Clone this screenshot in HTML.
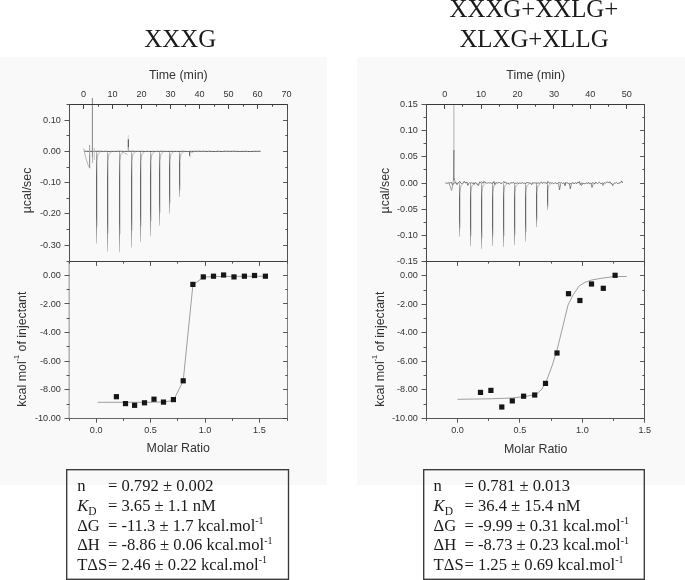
<!DOCTYPE html>
<html><head><meta charset="utf-8"><title>ITC</title><style>
html,body{margin:0;padding:0;background:#fff;}
body{width:685px;height:580px;position:relative;overflow:hidden;}
svg{position:absolute;left:0;top:0;display:block;}
</style></head><body>
<svg width="685" height="580" viewBox="0 0 685 580" font-family="Liberation Sans, Arial, sans-serif">
<defs><linearGradient id="gl" gradientUnits="userSpaceOnUse" x1="0" y1="150" x2="0" y2="255"><stop offset="0" stop-color="#555"/><stop offset="0.55" stop-color="#666"/><stop offset="1" stop-color="#c4c4c4"/></linearGradient><linearGradient id="gr" gradientUnits="userSpaceOnUse" x1="0" y1="182" x2="0" y2="250"><stop offset="0" stop-color="#555"/><stop offset="0.6" stop-color="#666"/><stop offset="1" stop-color="#aaa"/></linearGradient></defs>
<rect x="0" y="57" width="327" height="428" fill="#f9f9f9"/>
<rect x="357" y="57" width="328" height="428" fill="#f9f9f9"/>
<g font-family="Liberation Serif, Times New Roman, serif" fill="#1a1a1a" font-size="24.85" text-anchor="middle">
<text x="180.2" y="47">XXXG</text>
<text x="533.9" y="16.85">XXXG+XXLG+</text>
<text x="534.0" y="46.6">XLXG+XLLG</text>
</g>
<defs><linearGradient id="sg" x1="0" y1="0" x2="0" y2="1"><stop offset="0" stop-color="#bbb"/><stop offset="0.12" stop-color="#8a8a8a"/><stop offset="0.28" stop-color="#626262"/><stop offset="0.7" stop-color="#6a6a6a"/><stop offset="1" stop-color="#c8c8c8"/></linearGradient></defs>
<rect x="97" y="153.38" width="0.9" height="73.7" fill="#d6d6d6"/>
<rect x="96" y="151.38" width="1.0" height="92.12" fill="url(#sg)"/>
<path d="M96.9,160.38 Q97.4,152.88 100.5,151.97" stroke="#a0a0a0" stroke-width="0.65" fill="none"/>
<rect x="108" y="153.38" width="0.9" height="80.1" fill="#d6d6d6"/>
<rect x="107" y="151.38" width="1.0" height="100.12" fill="url(#sg)"/>
<path d="M107.9,160.38 Q108.4,152.88 111.5,151.97" stroke="#a0a0a0" stroke-width="0.65" fill="none"/>
<rect x="120" y="153.38" width="0.9" height="80.74" fill="#d6d6d6"/>
<rect x="119" y="151.38" width="1.0" height="100.93" fill="url(#sg)"/>
<path d="M119.9,160.38 Q120.4,152.88 123.5,151.97" stroke="#a0a0a0" stroke-width="0.65" fill="none"/>
<rect x="132" y="153.38" width="0.9" height="76.98" fill="#d6d6d6"/>
<rect x="131" y="151.38" width="1.0" height="96.22" fill="url(#sg)"/>
<path d="M131.9,160.38 Q132.4,152.88 135.5,151.97" stroke="#a0a0a0" stroke-width="0.65" fill="none"/>
<rect x="141" y="153.38" width="0.9" height="72.5" fill="#d6d6d6"/>
<rect x="140" y="151.38" width="1.0" height="90.62" fill="url(#sg)"/>
<path d="M140.9,160.38 Q141.4,152.88 144.5,151.97" stroke="#a0a0a0" stroke-width="0.65" fill="none"/>
<rect x="151" y="153.38" width="0.9" height="67.7" fill="#d6d6d6"/>
<rect x="150" y="151.38" width="1.0" height="84.62" fill="url(#sg)"/>
<path d="M150.9,160.38 Q151.4,152.88 154.5,151.97" stroke="#a0a0a0" stroke-width="0.65" fill="none"/>
<rect x="160" y="153.38" width="0.9" height="59.3" fill="#d6d6d6"/>
<rect x="159" y="151.38" width="1.0" height="74.12" fill="url(#sg)"/>
<path d="M159.9,160.38 Q160.4,152.88 163.5,151.97" stroke="#a0a0a0" stroke-width="0.65" fill="none"/>
<rect x="170" y="153.38" width="0.9" height="49.7" fill="#d6d6d6"/>
<rect x="169" y="151.38" width="1.0" height="62.12" fill="url(#sg)"/>
<path d="M169.9,160.38 Q170.4,152.88 173.5,151.97" stroke="#a0a0a0" stroke-width="0.65" fill="none"/>
<rect x="180" y="153.38" width="0.9" height="36.5" fill="#d6d6d6"/>
<rect x="179" y="151.38" width="1.0" height="45.62" fill="url(#sg)"/>
<path d="M179.9,160.38 Q180.4,152.88 183.5,151.97" stroke="#a0a0a0" stroke-width="0.65" fill="none"/>
<rect x="190" y="153.38" width="0.9" height="4.18" fill="#d6d6d6"/>
<rect x="189" y="151.38" width="1.0" height="5.22" fill="url(#sg)"/>
<path d="M189.9,152.68 Q190.4,152.88 193.5,151.97" stroke="#a0a0a0" stroke-width="0.65" fill="none"/>
<path d="M83.9,151.38 L85.3,151.32 L86.7,151.27 L88.1,151.42 L89.5,151.25 L90.9,151.39 L92.3,151.33 L93.7,151.24 L95.1,151.38 L96.5,151.24 L97.9,151.36 L99.3,151.25 L100.7,151.25 L102.1,151.35 L103.5,151.47 L104.9,151.26 L106.3,151.29 L107.7,151.41 L109.1,151.51 L110.5,151.4 L111.9,151.34 L113.3,151.52 L114.7,151.24 L116.1,151.48 L117.5,151.31 L118.9,151.27 L120.3,151.26 L121.7,151.32 L123.1,151.47 L124.5,151.28 L125.9,151.4 L127.3,151.42 L128.7,151.34 L130.1,151.39 L131.5,151.24 L132.9,151.24 L134.3,151.29 L135.7,151.43 L137.1,151.35 L138.5,151.32 L139.9,151.4 L141.3,151.36 L142.7,151.31 L144.1,151.46 L145.5,151.43 L146.9,151.3 L148.3,151.4 L149.7,151.38 L151.1,151.49 L152.5,151.44 L153.9,151.31 L155.3,151.52 L156.7,151.26 L158.1,151.35 L159.5,151.45 L160.9,151.27 L162.3,151.37 L163.7,151.24 L165.1,151.43 L166.5,151.45 L167.9,151.4 L169.3,151.49 L170.7,151.32 L172.1,151.43 L173.5,151.4 L174.9,151.4 L176.3,151.36 L177.7,151.48 L179.1,151.51 L180.5,151.37 L181.9,151.42 L183.3,151.24 L184.7,151.44 L186.1,151.42 L187.5,151.52 L188.9,151.47 L190.3,151.31 L191.7,151.34 L193.1,151.43 L194.5,151.23 L195.9,151.36 L197.3,151.28 L198.7,151.26 L200.1,151.24 L201.5,151.46 L202.9,151.26 L204.3,151.3 L205.7,151.34 L207.1,151.49 L208.5,151.25 L209.9,151.36 L211.3,151.39 L212.7,151.49 L214.1,151.47 L215.5,151.48 L216.9,151.31 L218.3,151.35 L219.7,151.33 L221.1,151.49 L222.5,151.51 L223.9,151.27 L225.3,151.28 L226.7,151.29 L228.1,151.3 L229.5,151.37 L230.9,151.4 L232.3,151.3 L233.7,151.23 L235.1,151.35 L236.5,151.34 L237.9,151.39 L239.3,151.51 L240.7,151.43 L242.1,151.38 L243.5,151.41 L244.9,151.43 L246.3,151.24 L247.7,151.49 L249.1,151.46 L250.5,151.49 L251.9,151.46 L253.3,151.34 L254.7,151.34 L256.1,151.26 L257.5,151.42 L258.9,151.24 L260.3,151.25 L260.6,151.38" fill="none" stroke="#444" stroke-width="0.9"/>
<path d="M83.7,148.3 L85.6,157 L88,165 L90,168.5" fill="none" stroke="#aaa" stroke-width="0.8"/>
<path d="M89.6,145 L89.6,168" stroke="#a0a0a0" stroke-width="1"/>
<path d="M89.6,155 L89.6,168" stroke="#8c8c8c" stroke-width="0.8"/>
<path d="M94.3,148 L94.3,160" stroke="#bbb" stroke-width="0.9"/>
<path d="M92.4,98 L92.4,157" stroke="#777" stroke-width="0.9"/>
<path d="M92.4,157 L92.6,163" stroke="#aaa" stroke-width="0.9"/>
<path d="M128.3,151 L128.3,135" stroke="#d0d0d0" stroke-width="0.9"/>
<path d="M128.3,147.5 L128.3,139.3" stroke="#444" stroke-width="1"/>
<path d="M128.3,151 L128.3,147.5" stroke="#999" stroke-width="0.9"/>
<path d="M122,151.8 L127.5,154.5" fill="none" stroke="#999" stroke-width="0.6"/>
<rect x="460" y="185" width="0.9" height="43.04" fill="#d6d6d6"/>
<rect x="459" y="183" width="1.0" height="53.8" fill="url(#sg)"/>
<path d="M459.9,192 Q460.4,184.5 463.5,183.6" stroke="#a0a0a0" stroke-width="0.65" fill="none"/>
<rect x="471" y="185" width="0.9" height="50.72" fill="#d6d6d6"/>
<rect x="470" y="183" width="1.0" height="63.4" fill="url(#sg)"/>
<path d="M470.9,192 Q471.4,184.5 474.5,183.6" stroke="#a0a0a0" stroke-width="0.65" fill="none"/>
<rect x="482" y="185" width="0.9" height="52.8" fill="#d6d6d6"/>
<rect x="481" y="183" width="1.0" height="66" fill="url(#sg)"/>
<path d="M481.9,192 Q482.4,184.5 485.5,183.6" stroke="#a0a0a0" stroke-width="0.65" fill="none"/>
<rect x="493" y="185" width="0.9" height="50.4" fill="#d6d6d6"/>
<rect x="492" y="183" width="1.0" height="63" fill="url(#sg)"/>
<path d="M492.9,192 Q493.4,184.5 496.5,183.6" stroke="#a0a0a0" stroke-width="0.65" fill="none"/>
<rect x="504" y="185" width="0.9" height="51.2" fill="#d6d6d6"/>
<rect x="503" y="183" width="1.0" height="64" fill="url(#sg)"/>
<path d="M503.9,192 Q504.4,184.5 507.5,183.6" stroke="#a0a0a0" stroke-width="0.65" fill="none"/>
<rect x="515" y="185" width="0.9" height="49.76" fill="#d6d6d6"/>
<rect x="514" y="183" width="1.0" height="62.2" fill="url(#sg)"/>
<path d="M514.9,192 Q515.4,184.5 518.5,183.6" stroke="#a0a0a0" stroke-width="0.65" fill="none"/>
<rect x="526" y="185" width="0.9" height="46.96" fill="#d6d6d6"/>
<rect x="525" y="183" width="1.0" height="58.7" fill="url(#sg)"/>
<path d="M525.9,192 Q526.4,184.5 529.5,183.6" stroke="#a0a0a0" stroke-width="0.65" fill="none"/>
<rect x="537" y="185" width="0.9" height="35.44" fill="#d6d6d6"/>
<rect x="536" y="183" width="1.0" height="44.3" fill="url(#sg)"/>
<path d="M536.9,192 Q537.4,184.5 540.5,183.6" stroke="#a0a0a0" stroke-width="0.65" fill="none"/>
<rect x="548" y="185" width="0.9" height="21.6" fill="#d6d6d6"/>
<rect x="547" y="183" width="1.0" height="27" fill="url(#sg)"/>
<path d="M547.9,189.75 Q548.4,184.5 551.5,183.6" stroke="#a0a0a0" stroke-width="0.65" fill="none"/>
<path d="M445.3,183 L446.2,182.95 L447.1,183.47 L448,183.01 L448.9,182.65 L449.8,183.14 L450.7,182.55 L451.6,182.55 L452.5,185.11 L453.4,183.51 L454.3,183.13 L455.2,182.47 L456.1,182.52 L457,184.62 L457.9,182.81 L458.8,182.66 L459.7,181.27 L460.6,182.95 L461.5,183.55 L462.4,183.37 L463.3,182.8 L464.2,181.27 L465.1,182.89 L466,182.88 L466.9,181.88 L467.8,185.37 L468.7,183.53 L469.6,182.53 L470.5,183.31 L471.4,182.55 L472.3,183.51 L473.2,182.58 L474.1,184.46 L475,182.65 L475.9,182.94 L476.8,183.26 L477.7,185.06 L478.6,185.44 L479.5,182.05 L480.4,182.88 L481.3,181.66 L482.2,182.68 L483.1,183.3 L484,181.28 L484.9,182.68 L485.8,182.47 L486.7,183.13 L487.6,183.1 L488.5,182.6 L489.4,183.14 L490.3,182.7 L491.2,183.25 L492.1,183.14 L493,183.21 L493.9,181.48 L494.8,184.46 L495.7,182.71 L496.6,182.73 L497.5,183.11 L498.4,182.64 L499.3,182.53 L500.2,183.07 L501.1,183.13 L502,183.46 L502.9,182.47 L503.8,181.44 L504.7,182.76 L505.6,182.02 L506.5,183.43 L507.4,183.17 L508.3,183.09 L509.2,184.39 L510.1,183.22 L511,182.47 L511.9,182.98 L512.8,182.8 L513.7,182.53 L514.6,183.26 L515.5,183.26 L516.4,183.32 L517.3,182.84 L518.2,183.44 L519.1,182.91 L520,183.4 L520.9,183.14 L521.8,183.09 L522.7,182.54 L523.6,183.54 L524.5,183.25 L525.4,183.26 L526.3,182.93 L527.2,182.54 L528.1,182.48 L529,182.98 L529.9,183.22 L530.8,183.13 L531.7,184.63 L532.6,182.61 L533.5,183.02 L534.4,182.83 L535.3,183 L536.2,182.9 L537.1,183.15 L538,183.28 L538.9,182.69 L539.8,183.46 L540.7,182.6 L541.6,181.94 L542.5,183.5 L543.4,182.64 L544.3,182.75 L545.2,182.91 L546.1,182.99 L547,183.37 L547.9,181.45 L548.8,182.76 L549.7,183.2 L550.6,182.71 L551.5,183.13 L552.4,182.81 L553.3,183.54 L554.2,183.56 L555.1,182.47 L556,183.26 L556.9,183.61 L557.8,183.37 L558.7,182.95 L559.6,182.02 L560.5,183.43 L561.4,182.54 L562.3,183.39 L563.2,183.23 L564.1,182.79 L565,185.71 L565.9,182.26 L566.8,183.25 L567.7,182.75 L568.6,183.76 L569.5,183.89 L570.4,183.3 L571.3,183.44 L572.2,183.28 L573.1,182.43 L574,183.96 L574.9,183.07 L575.8,182.64 L576.7,183.71 L577.6,182.17 L578.5,183.1 L579.4,181.47 L580.3,184.76 L581.2,183.37 L582.1,182.94 L583,183.8 L583.9,183.36 L584.8,183.76 L585.7,183.38 L586.6,182.88 L587.5,183.66 L588.4,182.33 L589.3,183.81 L590.2,183.34 L591.1,183.74 L592,182.61 L592.9,183.09 L593.8,183 L594.7,184.13 L595.6,182.06 L596.5,183.03 L597.4,183.6 L598.3,182.98 L599.2,182.13 L600.1,182.83 L601,183.85 L601.9,182.95 L602.8,182.87 L603.7,183.8 L604.6,182.63 L605.5,183.24 L606.4,182.26 L607.3,182.05 L608.2,182.45 L609.1,182.64 L610,181.74 L610.9,183.7 L611.8,183.44 L612.7,185.66 L613.6,183.65 L614.5,183.08 L615.4,183.07 L616.3,182.43 L617.2,183.17 L618.1,183.83 L619,182.7 L619.9,183.21 L620.8,182.39 L621.7,180.89 L622.5,183" fill="none" stroke="#505050" stroke-width="0.75"/>
<path d="M558.6,183.5 L559.5,190 L560.6,184.2" fill="none" stroke="#666" stroke-width="0.75"/>
<path d="M569.4,183.5 L570.3,189 L571.4,184.2" fill="none" stroke="#666" stroke-width="0.75"/>
<path d="M580.6,183.5 L581.5,185.5 L582.6,184.2" fill="none" stroke="#666" stroke-width="0.75"/>
<path d="M591.1,183.5 L592,187.5 L593.1,184.2" fill="none" stroke="#666" stroke-width="0.75"/>
<path d="M602.1,183.5 L603,185.5 L604.1,184.2" fill="none" stroke="#666" stroke-width="0.75"/>
<path d="M449,183 L451.6,190.5 L452.9,184.5 L453.6,178 L453.9,150 M454.2,178 L455.5,183.5" fill="none" stroke="#8a8a8a" stroke-width="0.8"/>
<path d="M453.9,150 L453.9,104.5" fill="none" stroke="#b0b0b0" stroke-width="1"/>
<path d="M453.9,180 L453.9,150" fill="none" stroke="#6a6a6a" stroke-width="0.9"/>
<line x1="69.5" y1="418.5" x2="287.5" y2="418.5" stroke="#666" stroke-width="1.0"/>
<line x1="287.5" y1="261.5" x2="287.5" y2="418.5" stroke="#808080" stroke-width="1.0"/>
<line x1="69.2" y1="261.5" x2="69.2" y2="418.5" stroke="#b0b0b0" stroke-width="1.5"/>
<line x1="69.5" y1="104.5" x2="287.5" y2="104.5" stroke="#383838" stroke-width="1.0"/>
<line x1="69.5" y1="261.5" x2="287.5" y2="261.5" stroke="#404040" stroke-width="1.0"/>
<line x1="287.5" y1="104.5" x2="287.5" y2="261.5" stroke="#505050" stroke-width="1.0"/>
<line x1="69.5" y1="104.5" x2="69.5" y2="261.5" stroke="#505050" stroke-width="1.0"/>
<line x1="69.5" y1="104.5" x2="69.5" y2="106.7" stroke="#444" stroke-width="1.0"/>
<line x1="83.5" y1="104.5" x2="83.5" y2="108.9" stroke="#444" stroke-width="1.0"/>
<line x1="98.5" y1="104.5" x2="98.5" y2="106.7" stroke="#444" stroke-width="1.0"/>
<line x1="112.5" y1="104.5" x2="112.5" y2="108.9" stroke="#444" stroke-width="1.0"/>
<line x1="127.5" y1="104.5" x2="127.5" y2="106.7" stroke="#444" stroke-width="1.0"/>
<line x1="141.5" y1="104.5" x2="141.5" y2="108.9" stroke="#444" stroke-width="1.0"/>
<line x1="156.5" y1="104.5" x2="156.5" y2="106.7" stroke="#444" stroke-width="1.0"/>
<line x1="170.5" y1="104.5" x2="170.5" y2="108.9" stroke="#444" stroke-width="1.0"/>
<line x1="185.5" y1="104.5" x2="185.5" y2="106.7" stroke="#444" stroke-width="1.0"/>
<line x1="199.5" y1="104.5" x2="199.5" y2="108.9" stroke="#444" stroke-width="1.0"/>
<line x1="214.5" y1="104.5" x2="214.5" y2="106.7" stroke="#444" stroke-width="1.0"/>
<line x1="228.5" y1="104.5" x2="228.5" y2="108.9" stroke="#444" stroke-width="1.0"/>
<line x1="243.5" y1="104.5" x2="243.5" y2="106.7" stroke="#444" stroke-width="1.0"/>
<line x1="257.5" y1="104.5" x2="257.5" y2="108.9" stroke="#444" stroke-width="1.0"/>
<line x1="272.5" y1="104.5" x2="272.5" y2="106.7" stroke="#444" stroke-width="1.0"/>
<line x1="287.5" y1="104.5" x2="287.5" y2="108.9" stroke="#444" stroke-width="1.0"/>
<text x="83.5" y="96.5" font-size="9.1" text-anchor="middle" fill="#333">0</text>
<text x="112.5" y="96.5" font-size="9.1" text-anchor="middle" fill="#333">10</text>
<text x="141.5" y="96.5" font-size="9.1" text-anchor="middle" fill="#333">20</text>
<text x="170.5" y="96.5" font-size="9.1" text-anchor="middle" fill="#333">30</text>
<text x="199.5" y="96.5" font-size="9.1" text-anchor="middle" fill="#333">40</text>
<text x="228.5" y="96.5" font-size="9.1" text-anchor="middle" fill="#333">50</text>
<text x="257.5" y="96.5" font-size="9.1" text-anchor="middle" fill="#333">60</text>
<text x="286.5" y="96.5" font-size="9.1" text-anchor="middle" fill="#333">70</text>
<line x1="64.5" y1="120.5" x2="69.5" y2="120.5" stroke="#444" stroke-width="0.9"/>
<line x1="283.1" y1="120.5" x2="287.5" y2="120.5" stroke="#444" stroke-width="0.9"/>
<text x="60.8" y="122.72" font-size="9.1" text-anchor="end" fill="#333">0.10</text>
<line x1="64.5" y1="151.5" x2="69.5" y2="151.5" stroke="#444" stroke-width="0.9"/>
<line x1="283.1" y1="151.5" x2="287.5" y2="151.5" stroke="#444" stroke-width="0.9"/>
<text x="60.8" y="153.97" font-size="9.1" text-anchor="end" fill="#333">0.00</text>
<line x1="64.5" y1="182.5" x2="69.5" y2="182.5" stroke="#444" stroke-width="0.9"/>
<line x1="283.1" y1="182.5" x2="287.5" y2="182.5" stroke="#444" stroke-width="0.9"/>
<text x="60.8" y="185.22" font-size="9.1" text-anchor="end" fill="#333">-0.10</text>
<line x1="64.5" y1="213.5" x2="69.5" y2="213.5" stroke="#444" stroke-width="0.9"/>
<line x1="283.1" y1="213.5" x2="287.5" y2="213.5" stroke="#444" stroke-width="0.9"/>
<text x="60.8" y="216.47" font-size="9.1" text-anchor="end" fill="#333">-0.20</text>
<line x1="64.5" y1="245.5" x2="69.5" y2="245.5" stroke="#444" stroke-width="0.9"/>
<line x1="283.1" y1="245.5" x2="287.5" y2="245.5" stroke="#444" stroke-width="0.9"/>
<text x="60.8" y="247.72" font-size="9.1" text-anchor="end" fill="#333">-0.30</text>
<line x1="66.5" y1="104.5" x2="69.5" y2="104.5" stroke="#444" stroke-width="0.9"/>
<line x1="285.3" y1="104.5" x2="287.5" y2="104.5" stroke="#444" stroke-width="0.9"/>
<line x1="66.5" y1="135.5" x2="69.5" y2="135.5" stroke="#444" stroke-width="0.9"/>
<line x1="285.3" y1="135.5" x2="287.5" y2="135.5" stroke="#444" stroke-width="0.9"/>
<line x1="66.5" y1="167.5" x2="69.5" y2="167.5" stroke="#444" stroke-width="0.9"/>
<line x1="285.3" y1="167.5" x2="287.5" y2="167.5" stroke="#444" stroke-width="0.9"/>
<line x1="66.5" y1="198.5" x2="69.5" y2="198.5" stroke="#444" stroke-width="0.9"/>
<line x1="285.3" y1="198.5" x2="287.5" y2="198.5" stroke="#444" stroke-width="0.9"/>
<line x1="66.5" y1="229.5" x2="69.5" y2="229.5" stroke="#444" stroke-width="0.9"/>
<line x1="285.3" y1="229.5" x2="287.5" y2="229.5" stroke="#444" stroke-width="0.9"/>
<line x1="69.5" y1="261.5" x2="69.5" y2="263.7" stroke="#444" stroke-width="0.9"/>
<line x1="69.5" y1="418.5" x2="69.5" y2="420.9" stroke="#444" stroke-width="0.9"/>
<line x1="96.5" y1="261.5" x2="96.5" y2="265.9" stroke="#444" stroke-width="0.9"/>
<line x1="96.5" y1="418.5" x2="96.5" y2="422.7" stroke="#444" stroke-width="0.9"/>
<line x1="123.5" y1="261.5" x2="123.5" y2="263.7" stroke="#444" stroke-width="0.9"/>
<line x1="123.5" y1="418.5" x2="123.5" y2="420.9" stroke="#444" stroke-width="0.9"/>
<line x1="150.5" y1="261.5" x2="150.5" y2="265.9" stroke="#444" stroke-width="0.9"/>
<line x1="150.5" y1="418.5" x2="150.5" y2="422.7" stroke="#444" stroke-width="0.9"/>
<line x1="177.5" y1="261.5" x2="177.5" y2="263.7" stroke="#444" stroke-width="0.9"/>
<line x1="177.5" y1="418.5" x2="177.5" y2="420.9" stroke="#444" stroke-width="0.9"/>
<line x1="205.5" y1="261.5" x2="205.5" y2="265.9" stroke="#444" stroke-width="0.9"/>
<line x1="205.5" y1="418.5" x2="205.5" y2="422.7" stroke="#444" stroke-width="0.9"/>
<line x1="232.5" y1="261.5" x2="232.5" y2="263.7" stroke="#444" stroke-width="0.9"/>
<line x1="232.5" y1="418.5" x2="232.5" y2="420.9" stroke="#444" stroke-width="0.9"/>
<line x1="259.5" y1="261.5" x2="259.5" y2="265.9" stroke="#444" stroke-width="0.9"/>
<line x1="259.5" y1="418.5" x2="259.5" y2="422.7" stroke="#444" stroke-width="0.9"/>
<line x1="287.5" y1="261.5" x2="287.5" y2="263.7" stroke="#444" stroke-width="0.9"/>
<line x1="287.5" y1="418.5" x2="287.5" y2="420.9" stroke="#444" stroke-width="0.9"/>
<text x="96.2" y="433" font-size="9.1" text-anchor="middle" fill="#333">0.0</text>
<text x="150.6" y="433" font-size="9.1" text-anchor="middle" fill="#333">0.5</text>
<text x="205" y="433" font-size="9.1" text-anchor="middle" fill="#333">1.0</text>
<text x="259.4" y="433" font-size="9.1" text-anchor="middle" fill="#333">1.5</text>
<line x1="66.5" y1="261.5" x2="69.5" y2="261.5" stroke="#444" stroke-width="0.9"/>
<line x1="285.3" y1="261.5" x2="287.5" y2="261.5" stroke="#444" stroke-width="0.9"/>
<line x1="64.5" y1="275.5" x2="69.5" y2="275.5" stroke="#444" stroke-width="0.9"/>
<line x1="283.1" y1="275.5" x2="287.5" y2="275.5" stroke="#444" stroke-width="0.9"/>
<line x1="66.5" y1="289.5" x2="69.5" y2="289.5" stroke="#444" stroke-width="0.9"/>
<line x1="285.3" y1="289.5" x2="287.5" y2="289.5" stroke="#444" stroke-width="0.9"/>
<line x1="64.5" y1="303.5" x2="69.5" y2="303.5" stroke="#444" stroke-width="0.9"/>
<line x1="283.1" y1="303.5" x2="287.5" y2="303.5" stroke="#444" stroke-width="0.9"/>
<line x1="66.5" y1="318.5" x2="69.5" y2="318.5" stroke="#444" stroke-width="0.9"/>
<line x1="285.3" y1="318.5" x2="287.5" y2="318.5" stroke="#444" stroke-width="0.9"/>
<line x1="64.5" y1="332.5" x2="69.5" y2="332.5" stroke="#444" stroke-width="0.9"/>
<line x1="283.1" y1="332.5" x2="287.5" y2="332.5" stroke="#444" stroke-width="0.9"/>
<line x1="66.5" y1="346.5" x2="69.5" y2="346.5" stroke="#444" stroke-width="0.9"/>
<line x1="285.3" y1="346.5" x2="287.5" y2="346.5" stroke="#444" stroke-width="0.9"/>
<line x1="64.5" y1="361.5" x2="69.5" y2="361.5" stroke="#444" stroke-width="0.9"/>
<line x1="283.1" y1="361.5" x2="287.5" y2="361.5" stroke="#444" stroke-width="0.9"/>
<line x1="66.5" y1="375.5" x2="69.5" y2="375.5" stroke="#444" stroke-width="0.9"/>
<line x1="285.3" y1="375.5" x2="287.5" y2="375.5" stroke="#444" stroke-width="0.9"/>
<line x1="64.5" y1="389.5" x2="69.5" y2="389.5" stroke="#444" stroke-width="0.9"/>
<line x1="283.1" y1="389.5" x2="287.5" y2="389.5" stroke="#444" stroke-width="0.9"/>
<line x1="66.5" y1="404.5" x2="69.5" y2="404.5" stroke="#444" stroke-width="0.9"/>
<line x1="285.3" y1="404.5" x2="287.5" y2="404.5" stroke="#444" stroke-width="0.9"/>
<line x1="64.5" y1="418.5" x2="69.5" y2="418.5" stroke="#444" stroke-width="0.9"/>
<line x1="283.1" y1="418.5" x2="287.5" y2="418.5" stroke="#444" stroke-width="0.9"/>
<text x="60.8" y="277.9" font-size="9.1" text-anchor="end" fill="#333">0.00</text>
<text x="60.8" y="306.5" font-size="9.1" text-anchor="end" fill="#333">-2.00</text>
<text x="60.8" y="335.1" font-size="9.1" text-anchor="end" fill="#333">-4.00</text>
<text x="60.8" y="363.7" font-size="9.1" text-anchor="end" fill="#333">-6.00</text>
<text x="60.8" y="392.3" font-size="9.1" text-anchor="end" fill="#333">-8.00</text>
<text x="60.8" y="420.9" font-size="9.1" text-anchor="end" fill="#333">-10.00</text>
<text x="178.3" y="78.6" font-size="12.4" text-anchor="middle" fill="#333">Time (min)</text>
<text x="178.3" y="452.2" font-size="12.4" text-anchor="middle" fill="#333">Molar Ratio</text>
<text transform="translate(31.4,190.5) rotate(-90)" font-size="12.4" text-anchor="middle" fill="#333">µcal/sec</text>
<text transform="translate(26.0,349.2) rotate(-90)" font-size="12.4" text-anchor="middle" fill="#333">kcal mol<tspan font-size="7.2" dy="-6.8">-1</tspan><tspan dy="6.8"> of injectant</tspan></text>
<line x1="426.5" y1="418.5" x2="644.5" y2="418.5" stroke="#555" stroke-width="1.0"/>
<line x1="644.5" y1="261.5" x2="644.5" y2="418.5" stroke="#555" stroke-width="1.0"/>
<line x1="426.5" y1="261.5" x2="426.5" y2="418.5" stroke="#555" stroke-width="1.0"/>
<line x1="426.5" y1="104.5" x2="644.5" y2="104.5" stroke="#383838" stroke-width="1.0"/>
<line x1="426.5" y1="261.5" x2="644.5" y2="261.5" stroke="#404040" stroke-width="1.0"/>
<line x1="644.5" y1="104.5" x2="644.5" y2="261.5" stroke="#505050" stroke-width="1.0"/>
<line x1="426.5" y1="104.5" x2="426.5" y2="261.5" stroke="#4a4a4a" stroke-width="1.0"/>
<line x1="426.5" y1="104.5" x2="426.5" y2="106.7" stroke="#444" stroke-width="1.0"/>
<line x1="444.5" y1="104.5" x2="444.5" y2="108.9" stroke="#444" stroke-width="1.0"/>
<line x1="462.5" y1="104.5" x2="462.5" y2="106.7" stroke="#444" stroke-width="1.0"/>
<line x1="481.5" y1="104.5" x2="481.5" y2="108.9" stroke="#444" stroke-width="1.0"/>
<line x1="499.5" y1="104.5" x2="499.5" y2="106.7" stroke="#444" stroke-width="1.0"/>
<line x1="517.5" y1="104.5" x2="517.5" y2="108.9" stroke="#444" stroke-width="1.0"/>
<line x1="535.5" y1="104.5" x2="535.5" y2="106.7" stroke="#444" stroke-width="1.0"/>
<line x1="553.5" y1="104.5" x2="553.5" y2="108.9" stroke="#444" stroke-width="1.0"/>
<line x1="572.5" y1="104.5" x2="572.5" y2="106.7" stroke="#444" stroke-width="1.0"/>
<line x1="590.5" y1="104.5" x2="590.5" y2="108.9" stroke="#444" stroke-width="1.0"/>
<line x1="608.5" y1="104.5" x2="608.5" y2="106.7" stroke="#444" stroke-width="1.0"/>
<line x1="626.5" y1="104.5" x2="626.5" y2="108.9" stroke="#444" stroke-width="1.0"/>
<line x1="644.5" y1="104.5" x2="644.5" y2="106.7" stroke="#444" stroke-width="1.0"/>
<text x="444.71" y="96.5" font-size="9.1" text-anchor="middle" fill="#333">0</text>
<text x="481.12" y="96.5" font-size="9.1" text-anchor="middle" fill="#333">10</text>
<text x="517.54" y="96.5" font-size="9.1" text-anchor="middle" fill="#333">20</text>
<text x="553.96" y="96.5" font-size="9.1" text-anchor="middle" fill="#333">30</text>
<text x="590.38" y="96.5" font-size="9.1" text-anchor="middle" fill="#333">40</text>
<text x="626.79" y="96.5" font-size="9.1" text-anchor="middle" fill="#333">50</text>
<line x1="421.5" y1="104.5" x2="426.5" y2="104.5" stroke="#444" stroke-width="0.9"/>
<line x1="640.1" y1="104.5" x2="644.5" y2="104.5" stroke="#444" stroke-width="0.9"/>
<text x="417.8" y="107.1" font-size="9.1" text-anchor="end" fill="#333">0.15</text>
<line x1="421.5" y1="130.5" x2="426.5" y2="130.5" stroke="#444" stroke-width="0.9"/>
<line x1="640.1" y1="130.5" x2="644.5" y2="130.5" stroke="#444" stroke-width="0.9"/>
<text x="417.8" y="133.27" font-size="9.1" text-anchor="end" fill="#333">0.10</text>
<line x1="421.5" y1="156.5" x2="426.5" y2="156.5" stroke="#444" stroke-width="0.9"/>
<line x1="640.1" y1="156.5" x2="644.5" y2="156.5" stroke="#444" stroke-width="0.9"/>
<text x="417.8" y="159.43" font-size="9.1" text-anchor="end" fill="#333">0.05</text>
<line x1="421.5" y1="183.5" x2="426.5" y2="183.5" stroke="#444" stroke-width="0.9"/>
<line x1="640.1" y1="183.5" x2="644.5" y2="183.5" stroke="#444" stroke-width="0.9"/>
<text x="417.8" y="185.6" font-size="9.1" text-anchor="end" fill="#333">0.00</text>
<line x1="421.5" y1="209.5" x2="426.5" y2="209.5" stroke="#444" stroke-width="0.9"/>
<line x1="640.1" y1="209.5" x2="644.5" y2="209.5" stroke="#444" stroke-width="0.9"/>
<text x="417.8" y="211.77" font-size="9.1" text-anchor="end" fill="#333">-0.05</text>
<line x1="421.5" y1="235.5" x2="426.5" y2="235.5" stroke="#444" stroke-width="0.9"/>
<line x1="640.1" y1="235.5" x2="644.5" y2="235.5" stroke="#444" stroke-width="0.9"/>
<text x="417.8" y="237.93" font-size="9.1" text-anchor="end" fill="#333">-0.10</text>
<line x1="421.5" y1="261.5" x2="426.5" y2="261.5" stroke="#444" stroke-width="0.9"/>
<line x1="640.1" y1="261.5" x2="644.5" y2="261.5" stroke="#444" stroke-width="0.9"/>
<text x="417.8" y="264.1" font-size="9.1" text-anchor="end" fill="#333">-0.15</text>
<line x1="423.5" y1="117.5" x2="426.5" y2="117.5" stroke="#444" stroke-width="0.9"/>
<line x1="642.3" y1="117.5" x2="644.5" y2="117.5" stroke="#444" stroke-width="0.9"/>
<line x1="423.5" y1="143.5" x2="426.5" y2="143.5" stroke="#444" stroke-width="0.9"/>
<line x1="642.3" y1="143.5" x2="644.5" y2="143.5" stroke="#444" stroke-width="0.9"/>
<line x1="423.5" y1="169.5" x2="426.5" y2="169.5" stroke="#444" stroke-width="0.9"/>
<line x1="642.3" y1="169.5" x2="644.5" y2="169.5" stroke="#444" stroke-width="0.9"/>
<line x1="423.5" y1="196.5" x2="426.5" y2="196.5" stroke="#444" stroke-width="0.9"/>
<line x1="642.3" y1="196.5" x2="644.5" y2="196.5" stroke="#444" stroke-width="0.9"/>
<line x1="423.5" y1="222.5" x2="426.5" y2="222.5" stroke="#444" stroke-width="0.9"/>
<line x1="642.3" y1="222.5" x2="644.5" y2="222.5" stroke="#444" stroke-width="0.9"/>
<line x1="423.5" y1="248.5" x2="426.5" y2="248.5" stroke="#444" stroke-width="0.9"/>
<line x1="642.3" y1="248.5" x2="644.5" y2="248.5" stroke="#444" stroke-width="0.9"/>
<line x1="426.5" y1="261.5" x2="426.5" y2="263.7" stroke="#444" stroke-width="0.9"/>
<line x1="426.5" y1="418.5" x2="426.5" y2="420.9" stroke="#444" stroke-width="0.9"/>
<line x1="457.5" y1="261.5" x2="457.5" y2="265.9" stroke="#444" stroke-width="0.9"/>
<line x1="457.5" y1="418.5" x2="457.5" y2="422.7" stroke="#444" stroke-width="0.9"/>
<line x1="488.5" y1="261.5" x2="488.5" y2="263.7" stroke="#444" stroke-width="0.9"/>
<line x1="488.5" y1="418.5" x2="488.5" y2="420.9" stroke="#444" stroke-width="0.9"/>
<line x1="519.5" y1="261.5" x2="519.5" y2="265.9" stroke="#444" stroke-width="0.9"/>
<line x1="519.5" y1="418.5" x2="519.5" y2="422.7" stroke="#444" stroke-width="0.9"/>
<line x1="551.5" y1="261.5" x2="551.5" y2="263.7" stroke="#444" stroke-width="0.9"/>
<line x1="551.5" y1="418.5" x2="551.5" y2="420.9" stroke="#444" stroke-width="0.9"/>
<line x1="582.5" y1="261.5" x2="582.5" y2="265.9" stroke="#444" stroke-width="0.9"/>
<line x1="582.5" y1="418.5" x2="582.5" y2="422.7" stroke="#444" stroke-width="0.9"/>
<line x1="613.5" y1="261.5" x2="613.5" y2="263.7" stroke="#444" stroke-width="0.9"/>
<line x1="613.5" y1="418.5" x2="613.5" y2="420.9" stroke="#444" stroke-width="0.9"/>
<line x1="644.5" y1="261.5" x2="644.5" y2="265.9" stroke="#444" stroke-width="0.9"/>
<line x1="644.5" y1="418.5" x2="644.5" y2="422.7" stroke="#444" stroke-width="0.9"/>
<text x="457.5" y="433" font-size="9.1" text-anchor="middle" fill="#333">0.0</text>
<text x="519.95" y="433" font-size="9.1" text-anchor="middle" fill="#333">0.5</text>
<text x="582.4" y="433" font-size="9.1" text-anchor="middle" fill="#333">1.0</text>
<text x="644.85" y="433" font-size="9.1" text-anchor="middle" fill="#333">1.5</text>
<line x1="423.5" y1="261.5" x2="426.5" y2="261.5" stroke="#444" stroke-width="0.9"/>
<line x1="642.3" y1="261.5" x2="644.5" y2="261.5" stroke="#444" stroke-width="0.9"/>
<line x1="421.5" y1="275.5" x2="426.5" y2="275.5" stroke="#444" stroke-width="0.9"/>
<line x1="640.1" y1="275.5" x2="644.5" y2="275.5" stroke="#444" stroke-width="0.9"/>
<line x1="423.5" y1="290.5" x2="426.5" y2="290.5" stroke="#444" stroke-width="0.9"/>
<line x1="642.3" y1="290.5" x2="644.5" y2="290.5" stroke="#444" stroke-width="0.9"/>
<line x1="421.5" y1="304.5" x2="426.5" y2="304.5" stroke="#444" stroke-width="0.9"/>
<line x1="640.1" y1="304.5" x2="644.5" y2="304.5" stroke="#444" stroke-width="0.9"/>
<line x1="423.5" y1="318.5" x2="426.5" y2="318.5" stroke="#444" stroke-width="0.9"/>
<line x1="642.3" y1="318.5" x2="644.5" y2="318.5" stroke="#444" stroke-width="0.9"/>
<line x1="421.5" y1="332.5" x2="426.5" y2="332.5" stroke="#444" stroke-width="0.9"/>
<line x1="640.1" y1="332.5" x2="644.5" y2="332.5" stroke="#444" stroke-width="0.9"/>
<line x1="423.5" y1="347.5" x2="426.5" y2="347.5" stroke="#444" stroke-width="0.9"/>
<line x1="642.3" y1="347.5" x2="644.5" y2="347.5" stroke="#444" stroke-width="0.9"/>
<line x1="421.5" y1="361.5" x2="426.5" y2="361.5" stroke="#444" stroke-width="0.9"/>
<line x1="640.1" y1="361.5" x2="644.5" y2="361.5" stroke="#444" stroke-width="0.9"/>
<line x1="423.5" y1="375.5" x2="426.5" y2="375.5" stroke="#444" stroke-width="0.9"/>
<line x1="642.3" y1="375.5" x2="644.5" y2="375.5" stroke="#444" stroke-width="0.9"/>
<line x1="421.5" y1="389.5" x2="426.5" y2="389.5" stroke="#444" stroke-width="0.9"/>
<line x1="640.1" y1="389.5" x2="644.5" y2="389.5" stroke="#444" stroke-width="0.9"/>
<line x1="423.5" y1="404.5" x2="426.5" y2="404.5" stroke="#444" stroke-width="0.9"/>
<line x1="642.3" y1="404.5" x2="644.5" y2="404.5" stroke="#444" stroke-width="0.9"/>
<line x1="421.5" y1="418.5" x2="426.5" y2="418.5" stroke="#444" stroke-width="0.9"/>
<line x1="640.1" y1="418.5" x2="644.5" y2="418.5" stroke="#444" stroke-width="0.9"/>
<text x="417.8" y="278.35" font-size="9.1" text-anchor="end" fill="#333">0.00</text>
<text x="417.8" y="306.86" font-size="9.1" text-anchor="end" fill="#333">-2.00</text>
<text x="417.8" y="335.37" font-size="9.1" text-anchor="end" fill="#333">-4.00</text>
<text x="417.8" y="363.88" font-size="9.1" text-anchor="end" fill="#333">-6.00</text>
<text x="417.8" y="392.39" font-size="9.1" text-anchor="end" fill="#333">-8.00</text>
<text x="417.8" y="420.9" font-size="9.1" text-anchor="end" fill="#333">-10.00</text>
<text x="535.7" y="78.6" font-size="12.4" text-anchor="middle" fill="#333">Time (min)</text>
<text x="535.7" y="452.6" font-size="12.4" text-anchor="middle" fill="#333">Molar Ratio</text>
<text transform="translate(389.2,190.6) rotate(-90)" font-size="12.4" text-anchor="middle" fill="#333">µcal/sec</text>
<text transform="translate(384.2,349.2) rotate(-90)" font-size="12.4" text-anchor="middle" fill="#333">kcal mol<tspan font-size="7.2" dy="-6.8">-1</tspan><tspan dy="6.8"> of injectant</tspan></text>
<path d="M97.7,402.3 L150,402.3 L165,401.8 L173.4,400.5 L183.2,381 L192.9,285 L203.3,277.2 L213.5,276.5 L265.4,276.2" fill="none" stroke="#888" stroke-width="0.8"/>
<rect x="113.8" y="394.1" width="5.2" height="5.2" fill="#161616"/>
<rect x="122.9" y="401" width="5.2" height="5.2" fill="#161616"/>
<rect x="132" y="402.7" width="5.2" height="5.2" fill="#161616"/>
<rect x="141.9" y="400.2" width="5.2" height="5.2" fill="#161616"/>
<rect x="151.4" y="396.6" width="5.2" height="5.2" fill="#161616"/>
<rect x="160.9" y="399.5" width="5.2" height="5.2" fill="#161616"/>
<rect x="170.8" y="397" width="5.2" height="5.2" fill="#161616"/>
<rect x="180.6" y="378.2" width="5.2" height="5.2" fill="#161616"/>
<rect x="190.3" y="281.8" width="5.2" height="5.2" fill="#161616"/>
<rect x="200.7" y="274.3" width="5.2" height="5.2" fill="#161616"/>
<rect x="210.9" y="273.6" width="5.2" height="5.2" fill="#161616"/>
<rect x="221" y="272.4" width="5.2" height="5.2" fill="#161616"/>
<rect x="231.4" y="274.3" width="5.2" height="5.2" fill="#161616"/>
<rect x="241.8" y="273.6" width="5.2" height="5.2" fill="#161616"/>
<rect x="251.9" y="272.9" width="5.2" height="5.2" fill="#161616"/>
<rect x="262.8" y="273.6" width="5.2" height="5.2" fill="#161616"/>
<path d="M457.5,399.3 L490,398.8 L512,398 L525,396.5 L536.4,394.3 L542,389 L547,379.5 L552,366 L557,350 L562,330 L568,305 L573,295 L579.3,285.8 L585,282.3 L591.7,280 L602,278.2 L614.4,276.5 L626.8,276.5" fill="none" stroke="#888" stroke-width="0.8"/>
<rect x="477.9" y="389.8" width="5.2" height="5.2" fill="#161616"/>
<rect x="488.3" y="387.8" width="5.2" height="5.2" fill="#161616"/>
<rect x="499.2" y="404.4" width="5.2" height="5.2" fill="#161616"/>
<rect x="509.7" y="398.3" width="5.2" height="5.2" fill="#161616"/>
<rect x="521" y="393.6" width="5.2" height="5.2" fill="#161616"/>
<rect x="532.1" y="392.4" width="5.2" height="5.2" fill="#161616"/>
<rect x="542.9" y="380.8" width="5.2" height="5.2" fill="#161616"/>
<rect x="554.4" y="350.4" width="5.2" height="5.2" fill="#161616"/>
<rect x="565.9" y="291.1" width="5.2" height="5.2" fill="#161616"/>
<rect x="577.3" y="297.9" width="5.2" height="5.2" fill="#161616"/>
<rect x="588.9" y="281.4" width="5.2" height="5.2" fill="#161616"/>
<rect x="600.7" y="285.7" width="5.2" height="5.2" fill="#161616"/>
<rect x="612.5" y="272.7" width="5.2" height="5.2" fill="#161616"/>
<rect x="66.7" y="469.7" width="221.8" height="109.6" fill="none" stroke="#383838" stroke-width="1.35"/>
<g font-family="Liberation Serif, Times New Roman, serif" font-size="16.6" fill="#1a1a1a">
<text x="77.2" y="490.8">n</text>
<text x="107.9" y="490.8">= 0.792 ± 0.002</text>
<text x="77.2" y="510.9"><tspan font-style="italic">K</tspan><tspan font-size="11.5" dy="4">D</tspan></text>
<text x="107.9" y="510.9">= 3.65 ± 1.1 nM</text>
<text x="77.2" y="530.5">ΔG</text>
<text x="107.9" y="530.5">= -11.3 ± 1.7 kcal.mol<tspan font-size="10" dy="-6.2">-1</tspan></text>
<text x="77.2" y="549.9">ΔH</text>
<text x="107.9" y="549.9">= -8.86 ± 0.06 kcal.mol<tspan font-size="10" dy="-6.2">-1</tspan></text>
<text x="77.2" y="569.6">TΔS</text>
<text x="107.9" y="569.6">= 2.46 ± 0.22 kcal.mol<tspan font-size="10" dy="-6.2">-1</tspan></text>
</g>
<rect x="423.7" y="469.7" width="220.6" height="109.6" fill="none" stroke="#383838" stroke-width="1.35"/>
<g font-family="Liberation Serif, Times New Roman, serif" font-size="16.6" fill="#1a1a1a">
<text x="433.6" y="490.8">n</text>
<text x="464.4" y="490.8">= 0.781 ± 0.013</text>
<text x="433.6" y="510.9"><tspan font-style="italic">K</tspan><tspan font-size="11.5" dy="4">D</tspan></text>
<text x="464.4" y="510.9">= 36.4 ± 15.4 nM</text>
<text x="433.6" y="530.5">ΔG</text>
<text x="464.4" y="530.5">= -9.99 ± 0.31 kcal.mol<tspan font-size="10" dy="-6.2">-1</tspan></text>
<text x="433.6" y="549.9">ΔH</text>
<text x="464.4" y="549.9">= -8.73 ± 0.23 kcal.mol<tspan font-size="10" dy="-6.2">-1</tspan></text>
<text x="433.6" y="569.6">TΔS</text>
<text x="464.4" y="569.6">= 1.25 ± 0.69 kcal.mol<tspan font-size="10" dy="-6.2">-1</tspan></text>
</g>
</svg>
</body></html>
